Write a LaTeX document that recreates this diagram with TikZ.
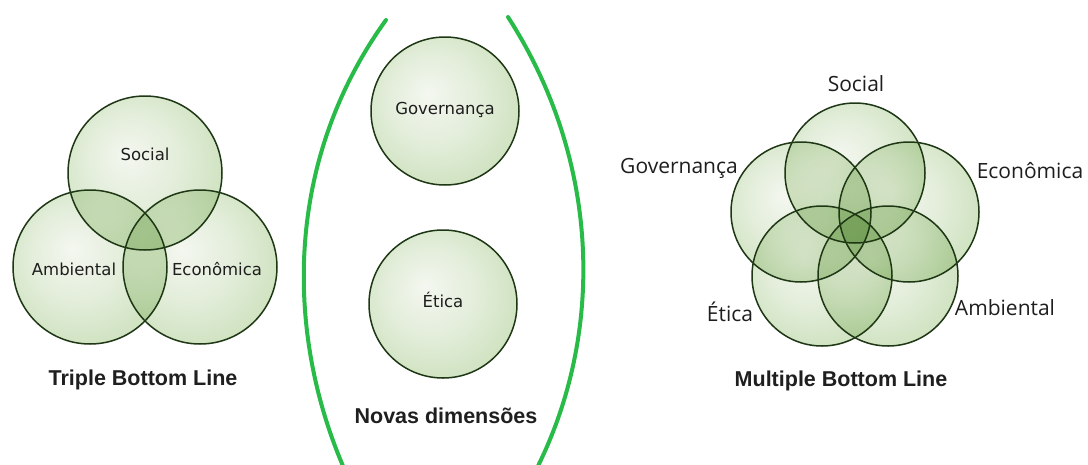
\documentclass[tikz,border=0pt]{standalone}
\usepackage{fontspec}
\setmainfont{DejaVu Sans}
\newfontfamily\sidefont{Open Sans}
\newfontfamily\titlefont{Liberation Sans}

\definecolor{bubCore}{RGB}{244,247,240}
\definecolor{bubLight}{RGB}{226,237,217}
\definecolor{bubMid}{RGB}{194,219,175}
\definecolor{bubRim}{RGB}{158,195,132}
\definecolor{bubEdge}{RGB}{30,55,20}
\definecolor{lineGreen}{RGB}{40,187,72}
\definecolor{txt}{RGB}{30,30,30}
\pgfdeclareradialshading{bubble}{\pgfpoint{-6bp}{6bp}}{color(0bp)=(bubCore); color(16bp)=(bubLight); color(38bp)=(bubMid); color(50bp)=(bubRim)}

\begin{document}
\begin{tikzpicture}[x=1pt,y=-1pt,
        bubble/.style={circle,minimum size=#1,inner sep=0pt,shading=bubble,blend mode=multiply},
        rim/.style={circle,minimum size=#1,inner sep=0pt,draw=bubEdge,line width=1.5pt},
        lbl/.style={text=txt,text height=0.73em,text depth=0pt,inner sep=0pt,font=\fontsize{16.5}{18}\selectfont},
        side/.style={text=txt,text height=0.72em,text depth=0pt,inner sep=0pt,font=\sidefont\fontsize{21}{24}\selectfont},
        ttl/.style={text=black!88,text height=0.72em,text depth=0pt,inner sep=0pt,font=\titlefont\bfseries\fontsize{21.5}{24}\selectfont},
        sideline/.style={draw=lineGreen,line width=4pt,line cap=round}]
    \fill[white] (0,0) rectangle (1088,464);
    \useasboundingbox (0,0) rectangle (1088,464);

    % triple bottom line
    \foreach \nm/\px/\py in {tSoc/145/173, tAmb/90/267, tEco/200/267}
        \node[bubble=154pt] (\nm) at (\px,\py) {};
    \foreach \nm in {tSoc,tAmb,tEco}
        \node[rim=154pt] (\nm-r) at (\nm) {};
    \node[lbl] (tSocL) at (145,157) {Social};
    \node[lbl] (tAmbL) at (74,272) {Ambiental};
    \node[lbl] (tEcoL) at (217,272) {Econômica};
    \node[ttl] (tbl) at (143,382) {Triple Bottom Line};

    % novas dimensoes
    \coordinate (lTop) at (386,20);
    \coordinate (lBot) at (343,466);
    \coordinate (rTop) at (508,17);
    \coordinate (rBot) at (538,466);
    \draw[sideline] (lTop) .. controls (285,160) and (285,330) .. (lBot);
    \draw[sideline] (rTop) .. controls (600,160) and (605,330) .. (rBot);
    \foreach \nm/\px/\py in {nGov/445/111, nEti/443/304}
        \node[bubble=148pt] (\nm) at (\px,\py) {};
    \foreach \nm in {nGov,nEti}
        \node[rim=148pt] (\nm-r) at (\nm) {};
    \node[lbl] (nGovL) at (nGov) {Governança};
    \node[lbl] (nEtiL) at (nEti) {Ética};
    \node[ttl] (nd) at (446,420) {Novas dimensões};

    % multiple bottom line
    \foreach \nm/\px/\py in {mSoc/855/173, mGov/801/212, mEco/909/212, mEti/822/276, mAmb/888/276}
        \node[bubble=140pt] (\nm) at (\px,\py) {};
    \foreach \nm in {mSoc,mGov,mEco,mEti,mAmb}
        \node[rim=140pt] (\nm-r) at (\nm) {};
    \node[side] (mSocL) at (856,88) {Social};
    \node[side] (mGovL) at (679,170) {Governança};
    \node[side] (mEcoL) at (1030,175) {Econômica};
    \node[side] (mEtiL) at (730,318) {Ética};
    \node[side] (mAmbL) at (1005,312) {Ambiental};
    \node[ttl] (mbl) at (841,383) {Multiple Bottom Line};
\end{tikzpicture}
\end{document}
